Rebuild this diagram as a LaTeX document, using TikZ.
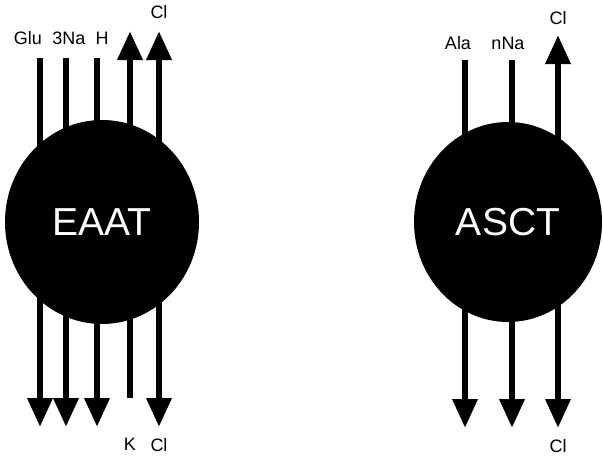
\documentclass[tikz,border=0pt]{standalone}
\usepackage{fontspec}
\setmainfont{Liberation Sans}
\usepackage{tikz}
\usetikzlibrary{shapes.geometric,arrows.meta,positioning}

\begin{document}
\begin{tikzpicture}[
  x=1pt, y=-1pt,
  pump/.style={ellipse, fill=black, text=white, inner sep=0pt, font=\fontsize{39}{46}\selectfont},
  ion/.style={inner sep=0pt, text height=12.5pt, text depth=0pt, font=\fontsize{18}{21}\selectfont},
  arr/.style={line width=6.5pt, >={Triangle[length=29pt,width=24pt]}}
]
\useasboundingbox (0,0) rectangle (603,459);

% EAAT line ends
\coordinate (gt1) at (40,58);  \coordinate (gb1) at (40,427);
\coordinate (gt2) at (66,58);  \coordinate (gb2) at (66,427);
\coordinate (gt3) at (97,58);  \coordinate (gb3) at (97,427);
\coordinate (gt4) at (130,31); \coordinate (gb4) at (130,398);
\coordinate (gt5) at (159,31); \coordinate (gb5) at (159,427);

% ASCT line ends
\coordinate (at1) at (465,60);  \coordinate (ab1) at (465,428);
\coordinate (at2) at (512,60);  \coordinate (ab2) at (512,428);
\coordinate (at3) at (558,35);  \coordinate (ab3) at (558,428);

\node[ion, above=13pt of gt1, xshift=-12pt] (glu) {Glu};
\node[ion, above=13pt of gt2, xshift=3pt] (na3) {3Na};
\node[ion, above=13pt of gt3, xshift=5pt] (h) {H};
\node[ion, above=12pt of gt5] (clout) {Cl};
\node[ion, below=40pt of gb4] (k) {K};
\node[ion, below=12pt of gb5] (clin) {Cl};

\node[ion, above=10pt of at1, xshift=-7pt] (ala) {Ala};
\node[ion, above=10pt of at2, xshift=-4pt] (nna) {nNa};
\node[ion, above=10pt of at3] (clout2) {Cl};
\node[ion, below=12pt of ab3] (clin2) {Cl};

\draw[arr, ->] (gt1) -- (gb1);
\draw[arr, ->] (gt2) -- (gb2);
\draw[arr, ->] (gt3) -- (gb3);
\draw[arr, ->] (gb4) -- (gt4);
\draw[arr, <->] (gt5) -- (gb5);

\draw[arr, ->] (at1) -- (ab1);
\draw[arr, ->] (at2) -- (ab2);
\draw[arr, <->] (at3) -- (ab3);

% transporters on top of the lines
\node[pump, minimum width=194pt, minimum height=204pt] (eaat) at (102,222) {EAAT};
\node[pump, minimum width=188pt, minimum height=200pt] (asct) at (508,222) {ASCT};
\end{tikzpicture}
\end{document}
